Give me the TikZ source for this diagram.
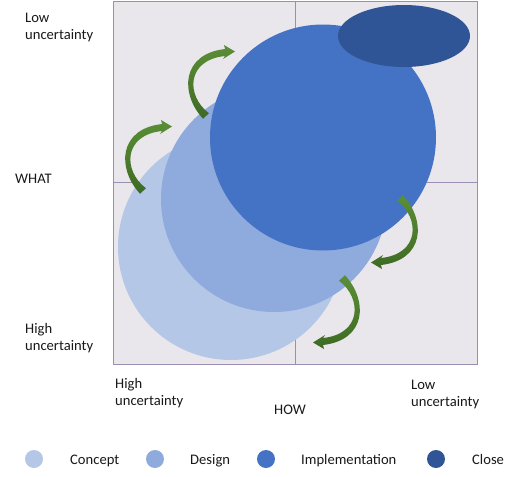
\documentclass[tikz,border=0pt]{standalone}
\usepackage{fontspec}
\setmainfont{Carlito}
\usetikzlibrary{arrows.meta,shapes.geometric}
\definecolor{bgc}{HTML}{E9E7EB}
\definecolor{gridc}{HTML}{9C8DB3}
\definecolor{concept}{HTML}{B4C7E7}
\definecolor{design}{HTML}{8FAADC}
\definecolor{impl}{HTML}{4472C4}
\definecolor{closec}{HTML}{2F5597}
\definecolor{arrowlight}{HTML}{5B8F36}
\definecolor{arrowdark}{HTML}{3E6A24}
\begin{document}
\begin{tikzpicture}[x=1pt,y=-1pt,
 lbl/.style={font=\fontsize{14.6}{17}\selectfont, align=left, inner sep=0pt, text=black!90},
 phase/.style={circle, inner sep=0pt, minimum size=226pt},
 key/.style={circle, inner sep=0pt, minimum size=18pt},
 turn/.pic={
   \shade[top color=arrowlight, bottom color=arrowdark]
     (-2.9,2.8) .. controls (-26,-22) and (-25,-62) .. (19,-67)
     -- (18,-71) -- (29,-64.5) -- (17,-57) -- (19,-60)
     .. controls (-20,-56) and (-20,-20) .. (2.9,-2.8) -- cycle;
 }]
\useasboundingbox (0,0) rectangle (515,477);
\fill[white] (0,0) rectangle (515,477);
\node[draw=gridc, fill=bgc, line width=0.8pt, minimum width=364pt, minimum height=363pt, inner sep=0pt, anchor=north west] (plot) at (112.5,0.5) {};
\draw[gridc, line width=0.8pt] (plot.north) -- (plot.south);
\draw[gridc, line width=0.8pt] (plot.west) -- (plot.east);
\node[phase, fill=concept] (concept) at (231,247) {};
\node[phase, fill=design] (design) at (274,199) {};
\node[phase, fill=impl] (impl) at (323,137.5) {};
\node[ellipse, fill=closec, minimum width=132pt, minimum height=62pt, inner sep=0pt] (close) at (404,36) {};
\pic at (206,116) {turn};
\pic at (143,191) {turn};
\pic[rotate=180] at (400,198) {turn};
\pic[rotate=180] at (342,278) {turn};
\node[lbl, anchor=west] (lowy) at (25,27.5) {Low\\uncertainty};
\node[lbl, anchor=west] (what) at (15,179) {WHAT};
\node[lbl, anchor=west] (highy) at (25,338.5) {High\\uncertainty};
\node[lbl, anchor=west] (highx) at (115,393.5) {High\\uncertainty};
\node[lbl] (how) at (290,409.5) {HOW};
\node[lbl, anchor=west] (lowx) at (411,394.5) {Low\\uncertainty};
\node[key, fill=concept] (k1) at (34,459) {};
\node[key, fill=design] (k2) at (155,459) {};
\node[key, fill=impl] (k3) at (266,459) {};
\node[key, fill=closec] (k4) at (436,459) {};
\node[lbl, anchor=base west] (t1) at (70,464) {Concept};
\node[lbl, anchor=base west] (t2) at (190,464) {Design};
\node[lbl, anchor=base west] (t3) at (301,464) {Implementation};
\node[lbl, anchor=base west] (t4) at (472,464) {Close};
\end{tikzpicture}
\end{document}
